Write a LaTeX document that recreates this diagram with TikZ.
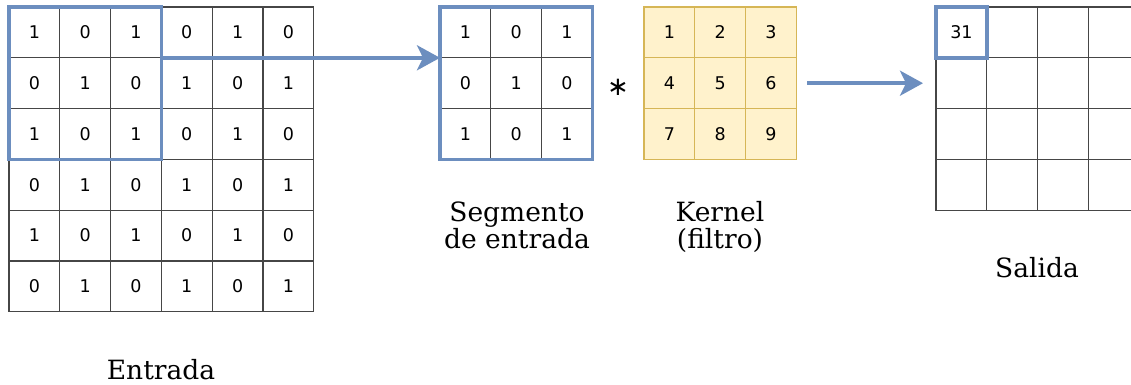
\documentclass[tikz,border=0pt]{standalone}
\usepackage{fontspec}
\setmainfont{DejaVu Serif}
\newfontfamily\cellfont{DejaVu Sans}
\usetikzlibrary{positioning, arrows.meta, calc, fit}
\definecolor{mainblue}{RGB}{108,142,191}
\definecolor{gridgray}{RGB}{70,70,70}
\definecolor{kernfill}{RGB}{255,242,204}
\definecolor{kerndraw}{RGB}{214,182,86}

\begin{document}
\begin{tikzpicture}[x=1pt, y=-1pt,
  cell/.style={draw=gridgray, line width=1.1pt, minimum size=50.8pt, inner sep=0pt, outer sep=0pt,
               font=\cellfont\fontsize{17.5}{20}\selectfont},
  kcell/.style={cell, draw=kerndraw, fill=kernfill},
  hilite/.style={draw=mainblue, line width=3.8pt, inner sep=0pt},
  arrow/.style={-{Stealth[length=23pt, width=25pt, inset=6pt]}, line width=3.6pt, mainblue},
  caption/.style={align=center, font=\fontsize{26.5}{27}\selectfont}
]
  \useasboundingbox (0,0) rectangle (1131,385);
  \foreach \r in {0,...,5}
    \foreach \c in {0,...,5} {
      \pgfmathtruncatemacro\v{1-mod(\r+\c,2)}
      \node[cell] (in-\r-\c) at (34.4+50.8*\c, 32.4+50.8*\r) {\v};
    }
  \foreach \r in {0,...,2}
    \foreach \c in {0,...,2} {
      \pgfmathtruncatemacro\v{1-mod(\r+\c,2)}
      \pgfmathtruncatemacro\k{3*\r+\c+1}
      \node[cell] (seg-\r-\c) at (465.4+50.8*\c, 32.4+50.8*\r) {\v};
      \node[kcell] (ker-\r-\c) at (669.4+50.8*\c, 32.4+50.8*\r) {\k};
    }
  \foreach \r in {0,...,3}
    \foreach \c in {0,...,3}
      \node[cell] (out-\r-\c) at (961.4+50.8*\c, 32.4+50.8*\r) {\ifnum\r\c=0 31\fi};

  \node[hilite, fit=(in-0-0)(in-2-2)] (inwin) {};
  \node[hilite, fit=(seg-0-0)(seg-2-2)] (segwin) {};
  \node[hilite, fit=(out-0-0)] (outwin) {};

  \node[font=\cellfont\fontsize{26}{26}\selectfont] (conv) at (618,87) {∗};

  \coordinate (res-from) at ([xshift=11pt]ker-1-2.east);
  \coordinate (res-to) at ([xshift=-13pt]out-1-0.west |- res-from);
  \draw[arrow] (in-0-2.south east) -- (seg-0-0.south west);
  \draw[arrow] (res-from) -- (res-to);

  \node[caption, anchor=base] (segcap) at (517,248) {Segmento\\de entrada};
  \node[caption, anchor=base] (kercap) at (720,248) {Kernel\\(filtro)};
  \node[caption, anchor=base] (outcap) at (1037,277) {Salida};
  \node[caption, anchor=base] (incap) at (161,379) {Entrada};
\end{tikzpicture}
\end{document}
